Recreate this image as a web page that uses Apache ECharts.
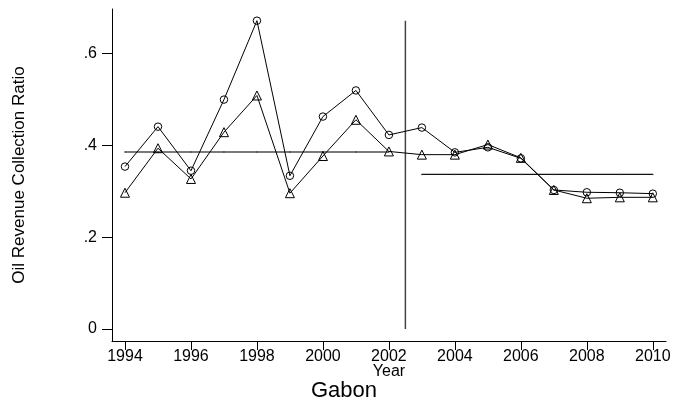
<!DOCTYPE html>
<html>
<head>
<meta charset="utf-8">
<script src="https://cdn.jsdelivr.net/npm/echarts@6/dist/echarts.min.js"></script>
<style>html,body{margin:0;padding:0;background:#fff;}#c{width:678px;height:408px;}</style>
</head>
<body>
<div id="c"></div>
<script>
// ---- data ----
const years = [1994,1995,1996,1997,1998,1999,2000,2001,2002,2003,2004,2005,2006,2007,2008,2009,2010];
const circleVals = [0.354,0.441,0.345,0.500,0.672,0.334,0.463,0.520,0.423,0.439,0.385,0.396,0.372,0.303,0.298,0.297,0.295];
const triangleVals = [0.297,0.394,0.327,0.429,0.509,0.296,0.377,0.456,0.387,0.380,0.380,0.402,0.373,0.303,0.285,0.287,0.287];
const preYears = [1994,1995,1996,1997,1998,1999,2000,2001,2002];
const preMean = 0.386;
const postYears = [2003,2004,2005,2006,2007,2008,2009,2010];
const postMean = 0.337;
const breakYear = 2002.5;
const breakTop = 0.672;
const xTicks = [1994,1996,1998,2000,2002,2004,2006,2008,2010];
const yTicks = [0,0.2,0.4,0.6];
const yTickLabels = ['0','.2','.4','.6'];
const countryName = 'Gabon';

const FONT = 'Liberation Sans';
const chart = echarts.init(document.getElementById('c'), null, {renderer:'canvas'});
const pairs = (xs, ys) => xs.map((x,i)=>[x, ys[i]]);
chart.setOption({
  animation:false,
  backgroundColor:'#fff',
  grid:{left:112, right:12, top:9, bottom:67},
  xAxis:{
    type:'value', min:1993.606, max:2010.40,
    name:'Year', nameLocation:'middle', nameGap:23, nameMoveOverlap:false,
    nameTextStyle:{fontFamily:FONT, fontSize:16, color:'#000'},
    axisLine:{show:true, onZero:false, lineStyle:{color:'#000', width:1}},
    axisTick:{show:true, length:9, customValues:xTicks, lineStyle:{color:'#000'}},
    axisLabel:{customValues:xTicks, margin:8, fontFamily:FONT, fontSize:16, color:'#000', formatter:v=>String(Math.round(v))},
    splitLine:{show:false}
  },
  yAxis:{
    type:'value', min:-0.0262, max:0.6975,
    name:'Oil Revenue Collection Ratio', nameLocation:'middle', nameGap:84, nameMoveOverlap:false,
    nameTextStyle:{fontFamily:FONT, fontSize:17, color:'#000'},
    axisLine:{show:true, onZero:false, lineStyle:{color:'#000', width:1}},
    axisTick:{show:true, length:10, customValues:yTicks, lineStyle:{color:'#000'}},
    axisLabel:{customValues:yTicks, margin:15, fontFamily:FONT, fontSize:16, color:'#000',
      formatter:v=>{const i=yTicks.findIndex(t=>Math.abs(t-v)<1e-6); return i>=0?yTickLabels[i]:'';}},
    splitLine:{show:false}
  },
  graphic:[{
    type:'text', x:344, y:391,
    style:{text:countryName, font:'22px "Liberation Sans"', fill:'#000', align:'center', verticalAlign:'middle'}
  }],
  series:[
    {type:'line', data:pairs(preYears, preYears.map(()=>preMean)), symbol:'circle', symbolSize:1.5,
     itemStyle:{color:'#333'}, lineStyle:{color:'#7a7a7a', width:2}, z:1},
    {type:'line', data:pairs(postYears, postYears.map(()=>postMean)), symbol:'circle', symbolSize:1.5,
     itemStyle:{color:'#333'}, lineStyle:{color:'#111', width:1.2}, z:1},
    {type:'line', data:[[breakYear,0],[breakYear,breakTop]], symbol:'none',
     lineStyle:{color:'#444', width:1.5}, z:1},
    {type:'line', data:pairs(years, circleVals), symbol:'circle', symbolSize:7.5,
     itemStyle:{color:'rgba(0,0,0,0)', borderColor:'#000', borderWidth:1},
     lineStyle:{color:'#000', width:1}, z:3},
    {type:'line', data:pairs(years, triangleVals), symbol:'triangle', symbolSize:9,
     itemStyle:{color:'rgba(0,0,0,0)', borderColor:'#000', borderWidth:1},
     lineStyle:{color:'#000', width:1}, z:3}
  ]
});
</script>
</body>
</html>
